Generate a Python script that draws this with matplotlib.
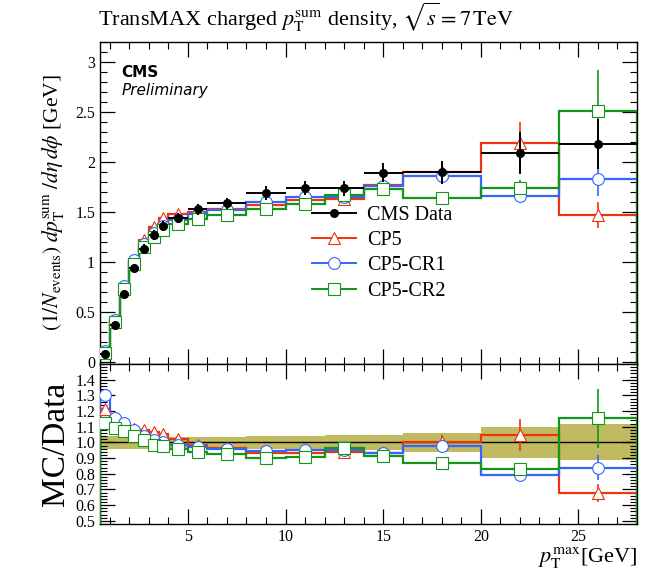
import matplotlib
matplotlib.use("Agg")
import matplotlib.pyplot as plt
import numpy as np
from matplotlib.lines import Line2D
from matplotlib.ticker import MultipleLocator

plt.rcParams["font.family"] = "serif"
plt.rcParams["font.serif"] = ["Liberation Serif", "DejaVu Serif"]
plt.rcParams["mathtext.fontset"] = "stix"

# pT max bins [GeV]
bin_edges = [0.5, 1.0, 1.5, 2.0, 2.5, 3.0, 3.5, 4.0, 5.0, 6.0, 8.0, 10.0,
             12.0, 14.0, 16.0, 20.0, 24.0, 28.0]

data_vals = [0.080, 0.364, 0.677, 0.937, 1.130, 1.264, 1.357, 1.440, 1.524,
             1.583, 1.687, 1.734, 1.734, 1.890, 1.894, 2.090, 2.174]
data_errs = [0.0032, 0.0146, 0.027, 0.0375, 0.045, 0.051, 0.054, 0.050, 0.053,
             0.055, 0.067, 0.069, 0.078, 0.095, 0.114, 0.209, 0.250]

cp5_vals = [0.097, 0.400, 0.745, 1.018, 1.217, 1.352, 1.433, 1.476, 1.501,
            1.531, 1.569, 1.621, 1.630, 1.767, 1.894, 2.190, 1.472]
cp5_errs = [0.002, 0.004, 0.005, 0.006, 0.007, 0.008, 0.009, 0.010, 0.012,
            0.015, 0.020, 0.030, 0.035, 0.050, 0.090, 0.210, 0.130]

cr1_vals = [0.104, 0.420, 0.762, 1.014, 1.179, 1.285, 1.357, 1.418, 1.478,
            1.515, 1.596, 1.647, 1.647, 1.758, 1.856, 1.655, 1.824]
cr1_errs = [0.002, 0.004, 0.005, 0.006, 0.007, 0.008, 0.009, 0.010, 0.012,
            0.015, 0.020, 0.030, 0.035, 0.050, 0.050, 0.070, 0.170]

cr2_vals = [0.090, 0.398, 0.728, 0.977, 1.144, 1.245, 1.322, 1.378, 1.428,
            1.464, 1.523, 1.578, 1.672, 1.726, 1.642, 1.733, 2.507]
cr2_errs = [0.002, 0.004, 0.005, 0.006, 0.007, 0.008, 0.009, 0.010, 0.012,
            0.015, 0.020, 0.030, 0.035, 0.070, 0.050, 0.080, 0.410]

edges = np.asarray(bin_edges)
centers = 0.5 * (edges[:-1] + edges[1:])
half_widths = 0.5 * np.diff(edges)
data = np.asarray(data_vals)
data_err = np.asarray(data_errs)

mc_series = [
    ("CP5", cp5_vals, cp5_errs, "#ee3311", "^", 8.5),
    ("CP5-CR1", cr1_vals, cr1_errs, "#3366ff", "o", 8.5),
    ("CP5-CR2", cr2_vals, cr2_errs, "#109618", "s", 8),
]


def style_axis(ax):
    ax.tick_params(which="both", direction="in", top=True, right=True)
    ax.tick_params(which="major", length=11, width=0.9, labelsize=11.5)
    ax.tick_params(which="minor", length=5, width=0.8)
    for spine in ax.spines.values():
        spine.set_linewidth(1.0)


fig = plt.figure(figsize=(6.59, 5.75), dpi=100)
ax = fig.add_axes([100 / 659, 1 - 364 / 575, 537 / 659, 322.3 / 575])
rax = fig.add_axes([100 / 659, 1 - 524 / 575, 537 / 659, 160 / 575], sharex=ax)

# main panel
for label, vals, errs, color, marker, ms in mc_series:
    vals = np.asarray(vals)
    ax.stairs(vals, edges, color=color, lw=1.6, zorder=2)
    ax.errorbar(centers, vals, yerr=errs, fmt=marker, color=color, ms=ms,
                mfc="white", mec=color, mew=0.8, elinewidth=1.2, capsize=0,
                zorder=3)

ax.errorbar(centers, data, xerr=half_widths, yerr=data_err, fmt="o",
            color="black", ms=5.5, elinewidth=1.4, capsize=0, zorder=4)

ax.set_xlim(0.5, 28)
ax.set_ylim(-0.023, 3.2)
ax.xaxis.set_major_locator(MultipleLocator(5))
ax.xaxis.set_minor_locator(MultipleLocator(1))
ax.yaxis.set_major_locator(MultipleLocator(0.5))
ax.yaxis.set_minor_locator(MultipleLocator(0.1))
ax.yaxis.set_major_formatter(plt.FuncFormatter(lambda v, p: f"{v:g}"))
style_axis(ax)
ax.tick_params(labelbottom=False)
ax.set_ylabel(r"$(1/N_\mathrm{events})\;dp_\mathrm{T}^\mathrm{sum}\;/d\eta\,d\phi$ [GeV]",
              fontsize=15.5, labelpad=7)

ax.text(0.04, 0.905, "CMS", transform=ax.transAxes, family="DejaVu Sans",
        fontweight="bold", fontsize=11, va="center")
ax.text(0.04, 0.85, "Preliminary", transform=ax.transAxes,
        family="DejaVu Sans", style="italic", fontsize=11, va="center")

handles = [Line2D([], [], color="black", marker="o", ms=5.5, lw=1.4)]
labels = ["CMS Data"]
for label, vals, errs, color, marker, ms in mc_series:
    handles.append(Line2D([], [], color=color, marker=marker, ms=ms,
                          mfc="white", mec=color, mew=0.8, lw=1.4))
    labels.append(label)
ax.legend(handles, labels, loc="upper left", bbox_to_anchor=(0.38, 0.515),
          frameon=False, fontsize=14.5, handlelength=2.2, labelspacing=0.3,
          handletextpad=0.55, borderaxespad=0)

fig.text(98 / 659, 1 - 26 / 575,
         r"TransMAX charged $p_\mathrm{T}^\mathrm{sum}$ density, $\sqrt{s} = 7\,\mathrm{TeV}$",
         fontsize=16, ha="left", va="baseline")

# ratio panel
rel_err = data_err / data
rax.stairs(1 + rel_err, edges, baseline=1 - rel_err, fill=True,
           color="#b5b045", alpha=0.85, lw=0, zorder=1)
rax.axhline(1.0, color="black", lw=1.0, zorder=2)
for label, vals, errs, color, marker, ms in mc_series:
    ratio = np.asarray(vals) / data
    ratio_err = np.asarray(errs) / data
    rax.stairs(ratio, edges, color=color, lw=1.6, zorder=3)
    rax.errorbar(centers, ratio, yerr=ratio_err, fmt=marker, color=color,
                 ms=ms, mfc="white", mec=color, mew=0.8, elinewidth=1.2,
                 capsize=0, zorder=4)

rax.set_ylim(0.48, 1.5)
rax.yaxis.set_minor_locator(MultipleLocator(0.02))
rax.set_yticks(np.arange(0.5, 1.41, 0.1))
rax.yaxis.set_major_formatter(plt.FuncFormatter(lambda v, p: f"{v:.1f}"))
style_axis(rax)
rax.set_ylabel("MC/Data", fontsize=24, labelpad=3)
rax.set_xlabel(r"$p_\mathrm{T}^\mathrm{max}$[GeV]", fontsize=16, loc="right",
               labelpad=0)

fig.savefig("out.png", dpi=100)
